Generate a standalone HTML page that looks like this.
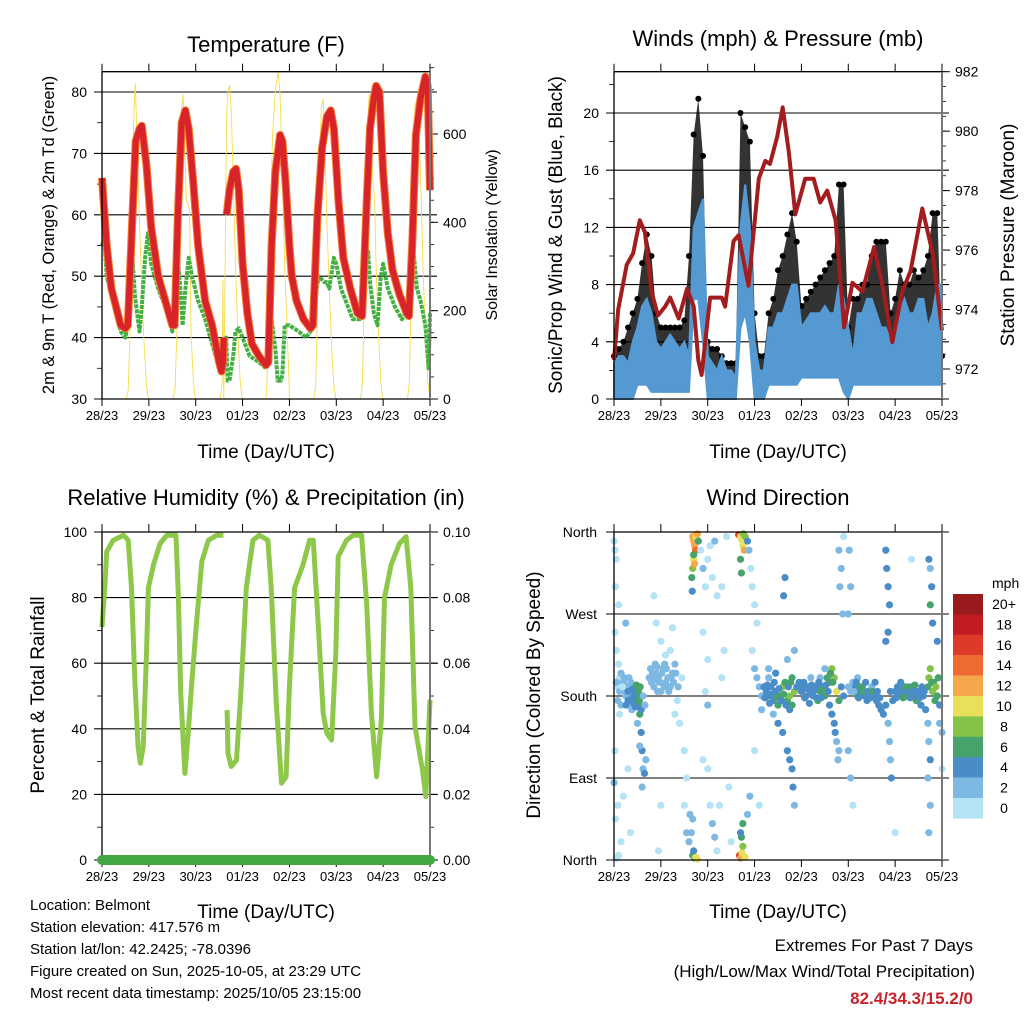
<!DOCTYPE html>
<html><head><meta charset="utf-8"><style>
html,body{margin:0;padding:0;background:#fff;}
svg{display:block;font-family:"Liberation Sans",Arial,sans-serif;}
</style></head><body>
<svg id="root" width="1024" height="1024" viewBox="0 0 1024 1024" xmlns="http://www.w3.org/2000/svg">
<rect width="1024" height="1024" fill="#fff"/>
<g id="temp"></g>
<g id="wind"></g>
<g id="rh"></g>
<g id="dir"></g>

<text x="266" y="52" font-size="22" text-anchor="middle">Temperature (F)</text>
<text x="778" y="46" font-size="22" text-anchor="middle">Winds (mph) &amp; Pressure (mb)</text>
<text x="266" y="505" font-size="22" text-anchor="middle">Relative Humidity (%) &amp; Precipitation (in)</text>
<text x="778" y="505" font-size="22" text-anchor="middle">Wind Direction</text>

<text transform="translate(54,235) rotate(-90)" font-size="16.5" text-anchor="middle">2m &amp; 9m T (Red, Orange) &amp; 2m Td (Green)</text>
<text transform="translate(497,235) rotate(-90)" font-size="16" text-anchor="middle">Solar Insolation (Yellow)</text>
<text transform="translate(562,235) rotate(-90)" font-size="19" text-anchor="middle">Sonic/Prop Wind &amp; Gust (Blue, Black)</text>
<text transform="translate(1014,235) rotate(-90)" font-size="19" text-anchor="middle">Station Pressure (Maroon)</text>
<text transform="translate(44,695) rotate(-90)" font-size="19" text-anchor="middle">Percent &amp; Total Rainfall</text>
<text transform="translate(540,695) rotate(-90)" font-size="19" text-anchor="middle">Direction (Colored By Speed)</text>

<text x="266" y="458" font-size="19" text-anchor="middle">Time (Day/UTC)</text>
<text x="778" y="458" font-size="19" text-anchor="middle">Time (Day/UTC)</text>
<text x="266" y="918" font-size="19" text-anchor="middle">Time (Day/UTC)</text>
<text x="778" y="918" font-size="19" text-anchor="middle">Time (Day/UTC)</text>

<g font-size="15">
<text x="30" y="910">Location: Belmont</text>
<text x="30" y="932">Station elevation: 417.576 m</text>
<text x="30" y="954">Station lat/lon: 42.2425; -78.0396</text>
<text x="30" y="976">Figure created on Sun, 2025-10-05, at 23:29 UTC</text>
<text x="30" y="998">Most recent data timestamp: 2025/10/05 23:15:00</text>
</g>
<g text-anchor="end">
<text x="973" y="951" font-size="17">Extremes For Past 7 Days</text>
<text x="975" y="977" font-size="17">(High/Low/Max Wind/Total Precipitation)</text>
<text x="973" y="1004" font-size="17" font-weight="bold" fill="#c8222a">82.4/34.3/15.2/0</text>
</g>
</svg>
<script>
// ---------- DATA ----------
var dayLabels = ["28/23","29/23","30/23","01/23","02/23","03/23","04/23","05/23"];
// Temperature (F)
var tempT = [0,0.1,0.2,0.3,0.4,0.5,0.55,0.65,0.72,0.8,0.85,0.95,1.05,1.2,1.35,1.5,1.55,1.62,1.7,1.78,1.85,1.95,2.05,2.2,2.35,2.5,2.55,2.58,2.6,2.63,2.66,2.72,2.8,2.86,2.92,3.0,3.1,3.2,3.35,3.5,3.55,3.62,3.7,3.8,3.85,3.92,4.0,4.05,4.15,4.3,4.45,4.5,4.6,4.7,4.8,4.88,4.95,5.05,5.15,5.3,5.45,5.55,5.65,5.72,5.8,5.85,5.92,6.0,6.1,6.2,6.35,6.5,6.55,6.62,6.7,6.8,6.9,6.95,7.0];
var tempV = [66,55,48,45,42,41.5,42,60,72,74,74.5,68,58,50,46,42,42,60,75,77,74,65,55,46,42,36,34.5,36,40,null,60,64,67,67.5,64,52,44,39,37,35.5,36,55,67,73,72,65,55,50,46,43,41.5,42,60,71,76,77,74,62,53,48,44,43.5,62,74,79,81,80,67,57,51,47,44,43.5,55,73,79,82.5,81,64];
var dewT = [0,0.05,0.1,0.2,0.3,0.4,0.5,0.55,0.62,0.65,0.7,0.75,0.8,0.85,0.92,0.98,1.05,1.2,1.35,1.5,1.58,1.62,1.68,1.72,1.78,1.85,1.92,2.05,2.2,2.35,2.5,2.55,2.6,2.65,2.68,2.72,2.8,2.85,2.92,3.0,3.15,3.35,3.5,3.6,3.62,3.7,3.75,3.82,3.85,3.9,4.0,4.2,4.35,4.45,4.55,4.62,4.75,4.8,4.85,4.95,5.0,5.1,5.2,5.35,5.5,5.6,5.68,5.72,5.8,5.88,5.95,6.0,6.1,6.25,6.4,6.55,6.62,6.65,6.72,6.8,6.9,6.97,7.0];
var dewV = [55,56,50,47,44,41,40,42,50,53,47,44,41,45,53,57,52,48,45,41,48,53,47,42,48,53,50,46,43,39,35,34.5,38,40,33,33,37,41,41.5,40,37,36,35,42,43,38,33,33,34,42,42,41,40,41,46,50,49,49,48,53,52,48,46,43,43,50,54,49,44,42,50,52,48,45,43,45,50,54,48,46,42,35,44];
// Solar insolation (W/m2)
var solarT = [0.5,0.52,0.56,0.6,0.64,0.68,0.71,0.76,0.8,0.85,0.9,0.95,0.99,
1.5,1.52,1.56,1.6,1.64,1.68,1.73,1.76,1.8,1.87,1.9,1.95,1.99,
2.5,2.52,2.56,2.58,2.6,2.66,2.68,2.72,2.76,2.8,2.85,2.9,2.95,2.99,
3.5,3.52,3.56,3.6,3.64,3.7,3.76,3.8,3.85,3.9,3.95,3.99,4.0,
4.5,4.52,4.56,4.6,4.64,4.68,4.72,4.76,4.8,4.85,4.9,4.95,4.99,
5.5,5.52,5.56,5.6,5.64,5.7,5.74,5.78,5.82,5.85,5.9,5.95,5.99,
6.5,6.52,6.56,6.6,6.64,6.68,6.73,6.76,6.8,6.85,6.9,6.95,7.0];
var solarV = [0,0,20,150,400,650,715,550,400,250,120,30,0,
0,0,25,160,420,640,690,600,450,430,150,40,0,
0,0,30,270,0,640,690,711,650,500,300,150,40,0,
0,30,200,450,600,700,741,690,500,300,160,40,0,
0,0,30,200,500,660,680,560,400,250,120,30,0,
0,0,40,250,550,690,600,500,450,300,150,40,0,
0,0,40,250,500,670,675,600,500,300,150,40,0];
// Winds (mph) at 0.1-day steps
var windHi = [2.5,3,3,2.5,4,5,6.5,7,6,4,3.5,4,4.5,4,3.5,4,3,12,13,14,3,2.5,2,3,2,2,1.5,12,15,12,4,2,2,5,5,6,6,7,8,8,5,5.5,6,6,6,6.5,6,6,8,7,5,3,6,6,7,7,6,5,5,4,4,6,7,6,6,7,7,5,6,8,8,4];
var windLo = [0,0,0,0,0,1,1,1,0.5,0.5,0.5,0.5,0.5,0.5,0.5,0.5,0.5,7,7,4,0,0,0,0,0,0,0,5,6,4,0,0,0,1,1,1,1,1,1,1,1.5,1.5,1.5,1.5,1.5,1.5,1.5,1.5,1.5,0.5,0,1,1,1,1,1,1,1,1,1,1,1,1,1,1,1,1,1,1,1,1];
var gustHi = [3,3.5,4,5,6,7,9.5,11.5,10,6,5,5,5,5,5,5.5,10,18.5,21,17,4,3.5,3.5,3,2.5,2.5,2.5,20,19,18,6,3,3,6,7,9,10,11.5,13,11,6.5,7,7.5,8,8.5,9,9.5,10,15,15,5,7,7,8,8,10,11,11,11,6,7,9,8,8,9,8.5,9,10,13,13,3];
// Station pressure (mb)
var presT = [0,0.09,0.27,0.41,0.55,0.66,0.8,0.94,1.09,1.2,1.38,1.56,1.7,1.8,1.87,2.05,2.3,2.37,2.55,2.66,2.87,3.09,3.23,3.33,3.48,3.6,3.73,3.87,4.08,4.26,4.4,4.55,4.73,4.91,5.09,5.3,5.55,5.73,5.94,6.15,6.33,6.58,6.8,7.0];
var presV = [972.3,974.0,975.5,975.9,977.0,976.6,974.6,973.8,974.1,974.4,973.7,974.7,974.1,972.3,971.8,974.4,974.4,974.1,976.3,976.5,974.8,978.4,979.0,978.9,979.8,980.8,979.3,977.2,978.4,978.4,977.6,978.0,977.0,973.4,974.9,974.6,976.1,974.8,972.9,974.6,975.3,977.4,975.9,973.3];
// Relative humidity (%)
var rhT = [0,0.06,0.1,0.24,0.46,0.56,0.63,0.7,0.77,0.82,0.88,0.95,0.99,1.1,1.24,1.38,1.58,1.63,1.68,1.77,1.84,1.91,2.02,2.13,2.27,2.45,2.59,2.6,2.67,2.69,2.76,2.87,2.97,3.08,3.22,3.36,3.54,3.61,3.72,3.83,3.93,4.0,4.11,4.29,4.43,4.51,4.61,4.72,4.8,4.9,4.99,5.04,5.22,5.36,5.54,5.65,5.75,5.86,5.96,6.03,6.17,6.35,6.49,6.59,6.68,6.84,6.91,7.0];
var rhV = [71,83,94,97.5,99,97.5,83,55,34.5,29.5,34.5,63,83,90,96.5,99,99,80,51,26.4,38.6,53,73,91,97.5,99,99,null,45.7,32.5,28.5,30.5,52.8,83,97.5,99,97.5,83,47.8,23.4,25.4,52.8,83,90,97.5,97.5,73,44.7,38.6,36.6,63,92.5,97.5,99,99,78,44.7,25.4,42.7,80,90,96.5,98.6,83,40.7,27.4,19.3,48.8];
var precipT = [0,7];
var precipV = [0,0];
// Wind direction scatter: day, degrees, speed (mph)
var dirT = [0,0.02,0.05,0.03,0.02,0.05,0.1,0.12,0.08,0.15,0.2,0.22,0.25,0.3,0.28,0.32,0.35,0.4,0.42,0.38,0.45,0.5,0.52,0.55,0.5,0.58,0.6,0.62,0.65,0.6,0.68,0.55,0.05,0.1,0.15,0.08,0,0.03,0.2,0.12,0.02,0.25,0.1,0.3,0.35,
0.75,0.78,0.8,0.85,0.88,0.9,0.95,1.0,1.05,1.1,1.15,1.2,1.25,1.3,1.1,1.0,0.9,1.2,1.35,1.3,0.85,0.95,1.0,1.25,1.4,
1.5,1.55,1.5,1.55,1.6,1.62,1.45,
1.68,1.7,1.72,1.74,1.7,1.68,1.66,1.67,1.75,1.8,1.78,1.72,1.7,1.68,1.72,1.75,1.78,1.7,1.65,1.68,
1.85,1.9,1.95,2.0,2.05,2.1,2.15,1.9,2.0,1.95,2.0,1.9,2.0,2.05,2.1,2.15,2.2,2.25,2.3,2.35,2.3,2.4,2.45,2.5,2.2,
2.66,2.7,2.72,2.75,2.78,2.8,2.76,2.7,2.72,2.85,2.88,2.68,2.7,2.73,2.75,2.72,2.7,2.75,2.8,2.85,2.9,
2.92,2.95,3.0,3.05,2.95,3.0,3.05,3.1,3.15,3.0,3.1,3.15,
3.2,3.25,3.3,3.35,3.4,3.45,3.5,3.55,3.6,3.65,3.7,3.75,3.8,3.85,3.9,3.3,3.4,3.5,3.6,3.7,3.75,3.8,3.82,3.85,3.3,3.45,3.62,3.65,3.7,3.75,3.8,3.85,3.95,
4.0,4.05,4.1,4.15,4.2,4.25,4.3,4.35,4.4,4.45,4.5,4.55,4.6,4.65,4.7,4.75,4.8,4.85,4.9,4.65,4.7,4.72,4.75,4.8,4.8,4.85,4.82,4.88,4.9,4.78,4.6,4.5,4.4,4.2,
5.0,5.05,5.1,5.15,5.2,5.25,5.3,5.35,5.4,5.45,5.5,5.55,5.6,5.65,5.7,5.75,5.8,5.85,5.88,5.9,5.92,5.8,5.82,5.85,5.88,5.8,5.85,5.9,5.95,5.2,5.0,5.05,5.1,5.02,5.05,5.0,
6.0,6.05,6.1,6.15,6.2,6.25,6.3,6.35,6.4,6.45,6.5,6.55,6.6,6.65,6.7,6.72,6.75,6.78,6.8,6.85,6.9,6.95,6.7,6.72,6.75,6.7,6.75,6.72,6.75,6.78,6.72,6.75,6.8,6.9,6.95,7.0,7.0,6.35,6.0,
0.05,0.08,0.12,0.15,0.18,0.22,0.26,0.3,0.34,0.36,0.4,0.44,0.46,0.48,0.52,0.54,0.56,0.58,0.62,0.66,
0.82,0.87,0.92,0.97,1.02,1.07,1.12,1.17,1.22,1.27,1.32,1.37,0.93,1.08,
3.22,3.27,3.32,3.37,3.42,3.47,3.52,3.57,3.62,3.67,3.72,3.77,
4.02,4.07,4.12,4.17,4.22,4.27,4.32,4.37,4.42,4.47,4.52,4.57,4.62,4.67,
5.12,5.17,5.22,5.27,5.32,5.37,5.42,5.47,5.52,5.57,5.62,5.67,
6.02,6.07,6.12,6.17,6.22,6.27,6.32,6.37,6.42,6.47,6.52,6.57,6.62,
6.82,6.87,6.92];
var dirD = [350,340,330,300,250,230,215,200,190,205,195,185,180,175,190,200,185,178,170,165,175,180,170,160,150,140,120,100,95,80,110,125,2,5,20,60,85,45,70,160,120,260,280,100,30,
200,210,195,190,215,205,200,185,210,195,200,190,205,215,225,240,260,230,175,160,290,10,60,255,150,
120,90,60,30,20,50,200,
355,350,345,340,330,320,310,295,355,350,358,325,335,5,2,3,1,10,30,45,
340,320,300,330,345,310,350,250,220,185,170,110,100,60,40,25,10,60,200,230,300,355,80,20,290,
357,355,352,345,340,355,358,330,315,350,340,5,2,8,15,25,30,40,3,50,70,
320,300,280,260,230,210,200,190,180,120,60,165,
190,185,180,190,175,185,170,180,190,195,175,180,200,185,190,200,160,150,140,120,110,100,80,60,210,205,290,310,220,165,170,230,195,
185,195,180,190,185,180,190,175,185,190,180,200,195,210,200,185,175,190,180,160,150,140,130,120,340,320,300,270,355,110,170,210,200,200,
190,185,195,190,180,185,190,180,175,185,190,180,175,170,165,160,170,150,130,110,90,340,320,300,280,240,250,185,175,200,120,90,60,340,300,270,
185,190,180,185,190,180,185,190,180,175,185,170,180,165,190,200,210,195,185,175,180,170,150,130,110,90,60,30,280,300,330,320,260,240,150,140,100,330,30,
195,175,185,170,190,200,170,185,175,195,188,182,168,192,185,175,190,165,180,170,
205,198,212,195,205,190,210,185,200,195,205,190,185,215,
178,192,172,182,195,178,188,175,182,170,190,195,
192,178,188,172,192,186,178,195,178,188,192,185,205,195,
185,195,178,190,185,195,185,178,185,195,185,178,
178,185,195,178,185,190,178,185,192,185,178,190,185,
195,190,200];
var dirS = [1,1,1,1,1,1,1,1,1,2,2,3,3,4,2,2,3,4,4,3,5,6,7,6,3,4,4,3,4,2,2,2,1,1,1,1,3,1,1,1,1,2,1,1,1,
2,2,3,2,2,2,3,3,2,2,3,2,2,2,1,1,1,1,1,1,1,1,1,1,1,
1,1,1,2,2,3,1,
12,13,12,14,10,8,6,4,11,7,12,12,6,7,8,10,10,4,3,2,
1,2,1,1,1,1,2,1,1,1,2,1,1,1,2,2,1,1,1,1,1,1,1,1,1,
16,10,11,10,12,8,9,6,6,4,3,16,12,10,8,6,4,6,11,2,2,
1,1,1,1,1,2,2,3,3,1,1,2,
4,4,5,5,4,5,6,7,8,7,6,8,7,8,5,3,3,4,4,4,4,4,5,3,3,4,4,4,3,5,6,3,4,
4,5,5,4,5,5,4,6,7,5,6,6,6,8,8,10,6,5,4,5,5,4,3,3,3,3,3,2,1,3,5,3,3,3,
3,2,3,4,6,5,6,4,5,6,3,5,4,5,4,4,5,3,3,3,4,4,4,4,4,4,4,4,5,3,2,2,1,2,2,2,
5,4,5,7,6,7,6,4,5,6,4,5,4,4,6,8,8,7,8,7,6,5,3,3,4,3,3,3,7,4,4,3,5,4,2,2,1,1,1,
2,2,3,3,1,3,4,4,4,3,4,5,4,6,6,7,6,5,3,3,
2,2,2,2,2,2,3,2,2,3,2,2,2,2,
4,4,5,4,5,6,5,4,6,5,5,6,
4,5,4,4,5,4,5,4,5,6,4,5,7,7,
3,4,5,7,6,5,5,4,6,5,4,5,
4,5,4,6,5,6,4,5,6,5,4,5,4,
7,8,6];
var cbLabels = ["20+","18","16","14","12","10","8","6","4","2","0"];
var cbColors = ["#991b1e","#c01c22","#dd3a2a","#ee6a30","#f5a84a","#e8e05a","#84c24a","#45a36b","#4a8cc8","#7db9e3","#b3e3f5"];

// ---------- HELPERS ----------
var NS = "http://www.w3.org/2000/svg";
function mk(parent, tag, attrs, txt) {
  var el = document.createElementNS(NS, tag);
  for (var k in attrs) el.setAttribute(k, attrs[k]);
  if (txt !== undefined) el.textContent = txt;
  parent.appendChild(el);
  return el;
}
function pathD(ts, vs, fx, fy) {
  var d = "", pen = false;
  for (var i = 0; i < ts.length; i++) {
    if (vs[i] === null) { pen = false; continue; }
    d += (pen ? "L" : "M") + fx(ts[i]).toFixed(1) + "," + fy(vs[i]).toFixed(1);
    pen = true;
  }
  return d;
}
var DAYW = 46.857;
function frame(g, x0, x1, yTop, yBot) {
  var e;
  e = mk(g, "line", {x1:x0, y1:yTop, x2:x1, y2:yTop, stroke:"#000", "stroke-width":1.3});
  
  
  e = mk(g, "line", {x1:x0, y1:yTop, x2:x0, y2:yBot, stroke:"#000", "stroke-width":1.3});
  
  
  e = mk(g, "line", {x1:x0, y1:yBot, x2:x1, y2:yBot, stroke:"#000", "stroke-width":1.3});
  
  
  e = mk(g, "line", {x1:x1, y1:yTop, x2:x1, y2:yBot, stroke:"#777", "stroke-width":2});
  
  
  for (var i = 0; i < dayLabels.length; i++) {
    var x = x0 + i * DAYW;
    e = mk(g, "line", {x1:x, y1:yBot, x2:x, y2:yBot + 7, stroke:"#000", "stroke-width":1});
    
    
    e = mk(g, "line", {x1:x, y1:yTop - 8, x2:x, y2:yTop, stroke:"#000", "stroke-width":1});
    
    
    e = mk(g, "text", {x:x, y:yBot + 21, "font-size":13, "text-anchor":"middle"}, dayLabels[i]);
    
    
  }
}
function grid(g, x0, x1, vals, fy, labels, lx) {
  for (var i = 0; i < vals.length; i++) {
    var y = fy(vals[i]);
    var e = mk(g, "line", {x1:x0 - 8, y1:y, x2:x1 + 7, y2:y, stroke:"#000", "stroke-width":1.1});
    
    
    e = mk(g, "text", {x:lx, y:y + 5, "font-size":14, "text-anchor":"end"}, labels[i]);
    
    
  }
}
function minorLeft(g, x0, vals, fy) {
  for (var i = 0; i < vals.length; i++) {
    var e = mk(g, "line", {x1:x0 - 5, y1:fy(vals[i]), x2:x0, y2:fy(vals[i]), stroke:"#000", "stroke-width":0.8});
    
    
  }
}
function rightAxis(g, x1, major, minor, fy, labels) {
  var e;
  for (var i = 0; i < minor.length; i++) {
    e = mk(g, "line", {x1:x1, y1:fy(minor[i]), x2:x1 + 4, y2:fy(minor[i]), stroke:"#000", "stroke-width":0.8});
    
    
  }
  for (var j = 0; j < major.length; j++) {
    e = mk(g, "line", {x1:x1, y1:fy(major[j]), x2:x1 + 8, y2:fy(major[j]), stroke:"#000", "stroke-width":1});
    
    
    e = mk(g, "text", {x:x1 + 13, y:fy(major[j]) + 5, "font-size":14}, labels[j]);
    
    
  }
}

// ---------- TEMPERATURE ----------
(function(){
  var g = document.getElementById("temp");
  var x0 = 102, x1 = 430, yTop = 71.7, yBot = 399;
  var xT = function(d){ return x0 + d * DAYW; };
  var yT = function(v){ return yBot - (v - 30) * 6.14; };
  var yS = function(v){ return yBot - v * 0.4417; };
  grid(g, x0, x1, [30,40,50,60,70,80], yT, ["30","40","50","60","70","80"], 87);
  minorLeft(g, x0, [35,45,55,65,75], yT);
  var maj = [0,200,400,600], mn = [];
  for (var s = 50; s <= 750; s += 50) mn.push(s);
  rightAxis(g, x1, maj, mn, yS, ["0","200","400","600"]);
  var e = mk(g, "path", {d:pathD(solarT, solarV, xT, yS), fill:"none", stroke:"#f7dc4a", "stroke-width":0.9});
  
  
  e = mk(g, "path", {d:pathD(dewT, dewV, xT, yT), fill:"none", stroke:"#44b044", "stroke-width":4, "stroke-dasharray":"4 1", "stroke-linejoin":"round"});
  
  
  e = mk(g, "path", {d:pathD(tempT, tempV, xT, yT), fill:"none", stroke:"#f07a2c", "stroke-width":8, "stroke-linejoin":"round"});
  
  
  e = mk(g, "path", {d:pathD(tempT, tempV, xT, yT), fill:"none", stroke:"#d8232a", "stroke-width":6, "stroke-linejoin":"round"});
  
  
  frame(g, x0, x1, yTop, yBot);
})();

// ---------- WINDS & PRESSURE ----------
(function(){
  var g = document.getElementById("wind");
  var x0 = 614, x1 = 942, yTop = 71.7, yBot = 399;
  var xW = function(d){ return x0 + d * DAYW; };
  var yW = function(v){ return yBot - v * 14.3; };
  var yP = function(p){ return 369 - (p - 972) * 29.73; };
  grid(g, x0, x1, [0,4,8,12,16,20], yW, ["0","4","8","12","16","20"], 599);
  minorLeft(g, x0, [2,6,10,14,18,22], yW);
  var maj = [972,974,976,978,980,982], mn = [];
  for (var p = 971.5; p <= 982; p += 0.5) mn.push(p);
  rightAxis(g, x1, maj, mn, yP, ["972","974","976","978","980","982"]);
  var n = gustHi.length, i, up = "", dn = "";
  for (i = 0; i < n; i++) up += (i ? "L" : "M") + xW(i / 10).toFixed(1) + "," + yW(gustHi[i]).toFixed(1);
  for (i = n - 1; i >= 0; i--) up += "L" + xW(i / 10).toFixed(1) + "," + yW(windHi[i]).toFixed(1);
  var e = mk(g, "path", {d:up + "Z", fill:"#000", "fill-opacity":0.8});
  
  
  for (i = 0; i < n; i++) {
    e = mk(g, "circle", {cx:xW(i / 10), cy:yW(gustHi[i]), r:3, fill:"#000"});
    
    
  }
  for (i = 0; i < n; i++) dn += (i ? "L" : "M") + xW(i / 10).toFixed(1) + "," + yW(windHi[i]).toFixed(1);
  for (i = n - 1; i >= 0; i--) dn += "L" + xW(i / 10).toFixed(1) + "," + yW(windLo[i]).toFixed(1);
  e = mk(g, "path", {d:dn + "Z", fill:"#5599d2", stroke:"#5599d2", "stroke-width":2});
  
  
  e = mk(g, "path", {d:pathD(presT, presV, xW, yP), fill:"none", stroke:"#a31c1e", "stroke-width":4, "stroke-linejoin":"round"});
  
  
  frame(g, x0, x1, yTop, yBot);
})();

// ---------- RH & PRECIP ----------
(function(){
  var g = document.getElementById("rh");
  var x0 = 102, x1 = 430, yTop = 532, yBot = 860;
  var xR = function(d){ return x0 + d * DAYW; };
  var yR = function(v){ return yBot - v * 3.28; };
  var yPr = function(v){ return yBot - v * 3280; };
  grid(g, x0, x1, [0,20,40,60,80,100], yR, ["0","20","40","60","80","100"], 87);
  minorLeft(g, x0, [10,30,50,70,90], yR);
  var maj = [0,0.02,0.04,0.06,0.08,0.1], mn = [];
  for (var s = 0.01; s < 0.1; s += 0.02) mn.push(s);
  rightAxis(g, x1, maj, mn, yPr, ["0.00","0.02","0.04","0.06","0.08","0.10"]);
  var e = mk(g, "path", {d:pathD(rhT, rhV, xR, yR), fill:"none", stroke:"#8dc84a", "stroke-width":5, "stroke-linejoin":"round"});
  
  
  frame(g, x0, x1, yTop, yBot);
  e = mk(g, "path", {d:pathD(precipT, precipV, xR, yPr), fill:"none", stroke:"#43a843", "stroke-width":10, "stroke-linecap":"round"});
  
  
})();

// ---------- WIND DIRECTION ----------
(function(){
  var g = document.getElementById("dir");
  var x0 = 614, x1 = 942, yTop = 532, yBot = 860;
  var xD = function(d){ return x0 + d * DAYW; };
  var yD = function(v){ return yBot - v * (328 / 360); };
  var colorFor = function(s){ var b = Math.min(10, Math.floor(s / 2)); return cbColors[10 - b]; };
  grid(g, x0, x1, [0,90,180,270,360], yD, ["North","East","South","West","North"], 597);
  for (var i = 0; i < dirT.length; i++) {
    var e = mk(g, "circle", {cx:xD(dirT[i]), cy:yD(dirD[i]), r:3.6, fill:colorFor(dirS[i])});
    
    
  }
  frame(g, x0, x1, yTop, yBot);
  var e2 = mk(g, "text", {x:992, y:588, "font-size":14}, "mph");
  
  
  for (var k = 0; k < cbColors.length; k++) {
    var yy = 594 + k * 20.4;
    var r = mk(g, "rect", {x:953, y:yy, width:30, height:20.6, fill:cbColors[k]});
    
    
    var t = mk(g, "text", {x:1004, y:yy + 15, "font-size":14, "text-anchor":"middle"}, cbLabels[k]);
    
    
  }
})();
</script>
</body></html>
